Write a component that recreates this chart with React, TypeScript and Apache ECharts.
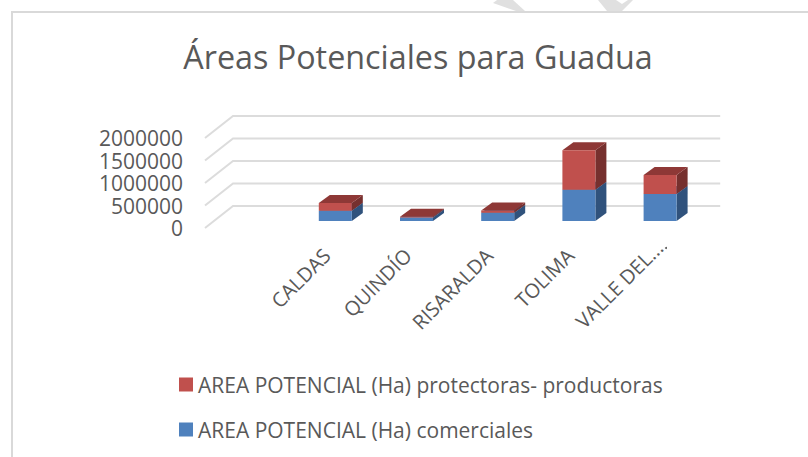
import React, { useEffect, useRef } from "react";
import * as echarts from "echarts";

const categories = ["", "CALDAS", "QUINDÍO", "RISARALDA", "TOLIMA", "VALLE DEL..."];
const comerciales = [null, 230000, 80000, 185000, 695000, 600000];
const protectoras = [null, 170000, 15000, 50000, 875000, 422000];
const yTicks = [0, 500000, 1000000, 1500000, 2000000];
const nameProtectoras = "AREA POTENCIAL (Ha) protectoras- productoras";
const nameComerciales = "AREA POTENCIAL (Ha) comerciales";
const titleText = "Áreas Potenciales para Guadua";

const FONT = "'Open Sans', sans-serif";
const TEXT = "#595959";
const GRID = { left: 205, top: 138, width: 487.2, height: 90 };
const BAR_W = 33;
const FLOOR_DX = 8.5;
const FLOOR_DY = 7;
const BAR_DX = 11;
const BAR_DY = 8;
const WALL_DX = 28;
const WALL_DY = 22;

function poly(points: number[][], fill: string) {
  return { type: "polygon", shape: { points }, style: { fill } };
}

function barRenderer(front: string, side: string, top: string) {
  return (_p: any, api: any) => {
    const cat = api.value(0);
    const a = api.coord([cat, api.value(1)]);
    const b = api.coord([cat, api.value(2)]);
    const x0 = a[0] - BAR_W / 2 + FLOOR_DX;
    const x1 = x0 + BAR_W;
    const y0 = a[1] - FLOOR_DY;
    const y1 = b[1] - FLOOR_DY;
    return {
      type: "group",
      children: [
        poly([[x1, y0], [x1 + BAR_DX, y0 - BAR_DY], [x1 + BAR_DX, y1 - BAR_DY], [x1, y1]], side),
        poly([[x0, y1], [x1, y1], [x1 + BAR_DX, y1 - BAR_DY], [x0 + BAR_DX, y1 - BAR_DY]], top),
        poly([[x0, y0], [x1, y0], [x1, y1], [x0, y1]], front),
      ],
    };
  };
}

function gridRenderer(params: any, api: any) {
  const y = api.coord([0, api.value(0)])[1];
  const sys = params.coordSys;
  return {
    type: "polyline",
    shape: {
      points: [
        [sys.x, y],
        [sys.x + WALL_DX, y - WALL_DY],
        [sys.x + sys.width + WALL_DX, y - WALL_DY],
      ],
    },
    style: { stroke: "#dcdcdc", lineWidth: 2, fill: "none" },
  };
}

function stackData(base: (number | null)[], added: (number | null)[] | null) {
  const out: number[][] = [];
  base.forEach((v, i) => {
    if (v === null) return;
    if (added) {
      out.push([i, v, v + (added[i] as number)]);
    } else {
      out.push([i, 0, v]);
    }
  });
  return out;
}

export default function App() {
  const ref = useRef<HTMLDivElement>(null);
  useEffect(() => {
    const chart = echarts.init(ref.current!, null, { renderer: "svg" });
    chart.setOption({
      animation: false,
      backgroundColor: "#ffffff",
      title: {
        text: titleText,
        left: 413,
        top: 35,
        textAlign: "center",
        textStyle: { fontFamily: FONT, fontSize: 32.3, fontWeight: "normal", color: TEXT },
      },
      grid: GRID,
      xAxis: {
        type: "category",
        data: categories.map((c, i) =>
          i === categories.length - 1
            ? { value: c, textStyle: { padding: [0, -11, 0, 0] } }
            : c
        ),
        axisLine: { show: false },
        axisTick: { show: false },
        splitLine: { show: false },
        axisLabel: {
          interval: 0,
          rotate: 45,
          margin: 24,
          fontFamily: FONT,
          fontSize: 20,
          color: TEXT,
        },
      },
      yAxis: {
        type: "value",
        min: 0,
        max: 2000000,
        interval: 500000,
        axisLine: { show: false },
        axisTick: { show: false },
        splitLine: { show: false },
        axisLabel: {
          margin: 22,
          fontFamily: FONT,
          fontSize: 21,
          lineHeight: 20,
          color: TEXT,
          formatter: (v: number) => String(v),
        },
      },
      legend: {
        orient: "vertical",
        left: 174,
        top: 369,
        itemWidth: 14,
        itemHeight: 14,
        itemGap: 24,
        textStyle: { fontFamily: FONT, fontSize: 21, color: TEXT },
        data: [
          { name: nameProtectoras, icon: "rect", itemStyle: { color: "#C0504D" } },
          { name: nameComerciales, icon: "rect", itemStyle: { color: "#4F81BD" } },
        ],
      },
      graphic: [
        { type: "line", shape: { x1: 12, y1: 12, x2: 12, y2: 457 }, style: { stroke: "#d9d9d9", lineWidth: 2 } },
        { type: "line", shape: { x1: 11, y1: 12, x2: 808, y2: 12 }, style: { stroke: "#d9d9d9", lineWidth: 2 } },
        { type: "polygon", shape: { points: [[493, 3], [497, 0], [513, 0], [525, 11], [516, 11]] }, style: { fill: "#e0e0e0" } },
        { type: "polygon", shape: { points: [[598, 0], [616, 0], [622, 4], [628, 0], [633, 0], [622, 11], [607, 11]] }, style: { fill: "#e0e0e0" } },
        { type: "circle", shape: { cx: 666, cy: 248, r: 1 }, style: { fill: "#555555" } },
      ],
      series: [
        {
          type: "custom",
          name: "grid",
          silent: true,
          coordinateSystem: "cartesian2d",
          renderItem: gridRenderer,
          encode: { y: 0 },
          data: yTicks.map((v) => [v]),
          z: 1,
        },
        {
          type: "custom",
          name: nameComerciales,
          coordinateSystem: "cartesian2d",
          renderItem: barRenderer("#4F81BD", "#30527C", "#3A6391"),
          encode: { x: 0, y: [1, 2] },
          data: stackData(comerciales, null),
          itemStyle: { color: "#4F81BD" },
          z: 2,
        },
        {
          type: "custom",
          name: nameProtectoras,
          coordinateSystem: "cartesian2d",
          renderItem: barRenderer("#C0504D", "#76302E", "#8E3836"),
          encode: { x: 0, y: [1, 2] },
          data: stackData(comerciales, protectoras),
          itemStyle: { color: "#C0504D" },
          z: 3,
        },
      ],
    });
    return () => chart.dispose();
  }, []);
  return (
    <div
      ref={ref}
      style={{ position: "absolute", left: 0, top: 0, width: 808, height: 457 }}
    />
  );
}
